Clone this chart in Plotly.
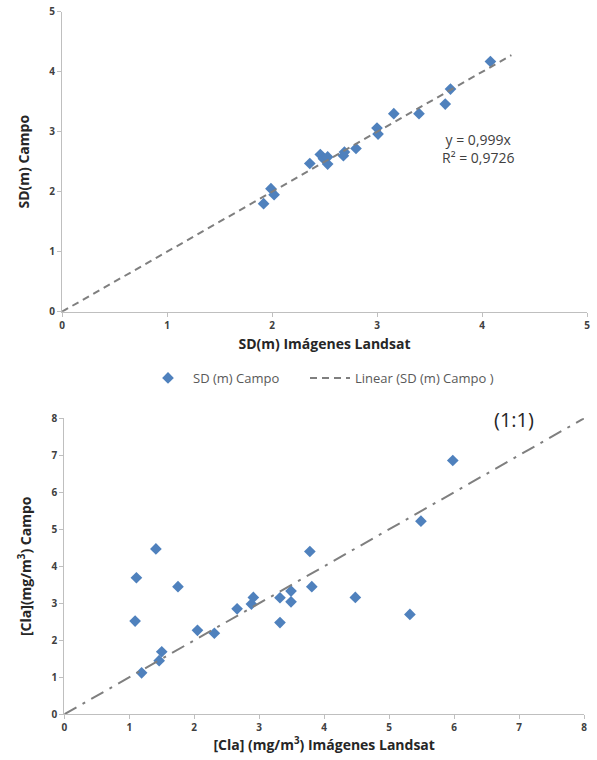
import plotly.graph_objects as go

# ---- Top chart: SD (m) ----
sd_landsat = [1.92, 1.99, 2.02, 2.36, 2.46, 2.49, 2.53, 2.53, 2.68, 2.69, 2.80,
              3.00, 3.01, 3.16, 3.40, 3.65, 3.70, 4.08]
sd_campo = [1.80, 2.05, 1.95, 2.47, 2.62, 2.55, 2.58, 2.46, 2.60, 2.66, 2.72,
            3.06, 2.96, 3.30, 3.30, 3.46, 3.71, 4.17]
trend_slope = 0.999
trend_x = [0, 4.28]
trend_y = [trend_slope * v for v in trend_x]

# ---- Bottom chart: [Cla] ----
cla_landsat = [1.09, 1.11, 1.41, 1.75, 1.19, 1.46, 1.50, 2.05, 2.31, 2.66, 2.88,
               2.91, 3.32, 3.32, 3.49, 3.49, 3.78, 3.81, 4.48, 5.32, 5.49, 5.98]
cla_campo = [2.52, 3.69, 4.47, 3.45, 1.12, 1.45, 1.69, 2.27, 2.19, 2.85, 2.98,
             3.16, 3.15, 2.48, 3.33, 3.04, 4.40, 3.45, 3.16, 2.70, 5.22, 6.86]
one_x = [0, 8]
one_y = [0, 8]

top_ticks = [0, 1, 2, 3, 4, 5]
bot_ticks = [0, 1, 2, 3, 4, 5, 6, 7, 8]

W, H = 597, 760
ML, MR, MT, MB = 40, 2, 0, 0
PW, PH = W - ML - MR, H - MT - MB


def xd(a, b):
    return [(a - ML) / PW, (b - ML) / PW]


def yd(top, bottom):
    return [1 - (bottom - MT) / PH, 1 - (top - MT) / PH]


blue = "#4F81BD"
gray_line = "#7F7F7F"
axis_col = "#BFBFBF"
tick_font = dict(family="Open Sans", size=10, color="#404040", weight="bold")
title_font = dict(family="Open Sans", size=14, color="#262626")
legend_font = dict(family="Open Sans", size=13, color="#595959")

fig = go.Figure()
fig.add_trace(go.Scatter(x=sd_landsat, y=sd_campo, mode="markers", name="SD (m) Campo",
                         marker=dict(symbol="diamond", size=9, color=blue),
                         xaxis="x", yaxis="y", legend="legend"))
fig.add_trace(go.Scatter(x=trend_x, y=trend_y, mode="lines", name="Linear (SD (m) Campo )",
                         line=dict(color=gray_line, width=2, dash="7px,5px"),
                         xaxis="x", yaxis="y", legend="legend2"))
fig.add_trace(go.Scatter(x=cla_landsat, y=cla_campo, mode="markers", showlegend=False,
                         marker=dict(symbol="diamond", size=9, color=blue),
                         xaxis="x2", yaxis="y2"))
fig.add_trace(go.Scatter(x=one_x, y=one_y, mode="lines", showlegend=False,
                         line=dict(color=gray_line, width=2, dash="14px,7px,3px,7px"),
                         xaxis="x2", yaxis="y2"))


def ax(domain, rng, ticks, anchor, title, standoff):
    return dict(domain=domain, range=rng, tickvals=ticks, anchor=anchor,
                showgrid=False, zeroline=False, showline=True, linecolor=axis_col,
                linewidth=1, ticks="outside", ticklen=4, tickcolor=axis_col,
                tickfont=tick_font, automargin=False, ticklabeloverflow="allow",
                title=dict(text=title, font=title_font, standoff=standoff))


fig.update_layout(
    width=W, height=H,
    margin=dict(l=ML, r=MR, t=MT, b=MB, autoexpand=False),
    paper_bgcolor="white", plot_bgcolor="white",
    xaxis=ax(xd(62, 587), [0, 5], top_ticks, "y", "<b>SD(m) Imágenes Landsat</b>", 8),
    yaxis=ax(yd(11.7, 311.7), [0, 5], top_ticks, "x", "<b>SD(m) Campo</b>", 16),
    xaxis2=ax(xd(64.3, 584), [0, 8], bot_ticks, "y2", "<b>[Cla] (mg/m<sup>3</sup>) Imágenes Landsat</b>", 6),
    yaxis2=ax(yd(418.3, 714.3), [0, 8], bot_ticks, "x2", "<b>[Cla](mg/m<sup>3</sup>) Campo</b>", 16),
    legend=dict(orientation="h", x=(143 - ML) / PW, xanchor="left",
                y=1 - (378 - MT) / PH, yanchor="middle",
                font=legend_font, itemwidth=40),
    legend2=dict(orientation="h", x=(305 - ML) / PW, xanchor="left",
                 y=1 - (378 - MT) / PH, yanchor="middle",
                 font=legend_font, itemwidth=40),
    showlegend=True,
    annotations=[
        dict(x=3.96, y=2.72, xref="x", yref="y", text="y = 0,999x<br>R² = 0,9726",
             showarrow=False, align="center",
             font=dict(family="Open Sans", size=14, color="#404040")),
        dict(x=6.93, y=7.96, xref="x2", yref="y2", text="(1:1)", showarrow=False,
             font=dict(family="Open Sans", size=20, color="#262626")),
    ],
)

# remove the browser's default 8px body margin so the figure fills the window
fig.write_html("out.html", config={"displayModeBar": False},
               post_script="document.body.style.margin='0';")
